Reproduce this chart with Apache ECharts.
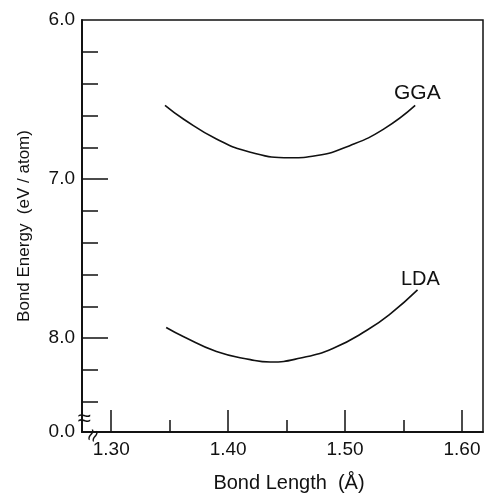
<!DOCTYPE html>
<html>
<head>
<meta charset="utf-8">
<script src="https://cdn.jsdelivr.net/npm/echarts@6/dist/echarts.min.js"></script>
<style>html,body{margin:0;padding:0;background:#fff}#c{width:487px;height:498px}</style>
</head>
<body>
<div id="c"></div>
<script>
// Data
const ggaLength = [1.346, 1.362, 1.390, 1.419, 1.453, 1.476, 1.504, 1.533, 1.560];
const ggaEnergy = [6.537, 6.624, 6.748, 6.831, 6.866, 6.852, 6.790, 6.686, 6.537];
const ldaLength = [1.347, 1.362, 1.390, 1.419, 1.436, 1.462, 1.490, 1.519, 1.539, 1.562];
const ldaEnergy = [7.933, 7.991, 8.084, 8.135, 8.150, 8.125, 8.063, 7.949, 7.846, 7.697];

const xMajorTicks = [1.30, 1.40, 1.50, 1.60];
const xMinorTicks = [1.35, 1.45, 1.55];
const yMajorTicks = [7.0, 8.0];
const yMinorTicks = [6.2, 6.4, 6.6, 6.8, 7.2, 7.4, 7.6, 7.8, 8.2, 8.4];
const yLabelValues = [6.0, 7.0, 8.0, 8.59];
const yLabelTexts = ['6.0', '7.0', '8.0', '0.0'];

const FONT = 'Liberation Sans, Arial, Helvetica, sans-serif';
const INK = '#111';

const chart = echarts.init(document.getElementById('c'), null, {renderer: 'canvas'});

const xBase = {
  type: 'value', min: 1.275, max: 1.618, position: 'bottom',
  axisLine: {show: true, lineStyle: {color: INK, width: 1.5}},
  splitLine: {show: false}
};
const yBase = {
  type: 'value', min: 6.0, max: 8.59, inverse: true, position: 'left',
  axisLine: {show: true, lineStyle: {color: INK, width: 1.5}},
  splitLine: {show: false}
};

chart.setOption({
  animation: false,
  backgroundColor: '#fff',
  grid: {left: 82, top: 20, right: 4, bottom: 63, show: true, borderColor: INK, borderWidth: 1.5},
  xAxis: [
    Object.assign({}, xBase, {
      name: 'Bond Length  (Å)', nameLocation: 'middle', nameGap: 41,
      nameTextStyle: {fontFamily: FONT, fontSize: 20, color: INK, padding: [0, 0, 0, 13]},
      axisTick: {show: true, inside: true, length: 22, customValues: xMajorTicks, lineStyle: {color: INK, width: 1.5}},
      axisLabel: {show: true, customValues: xMajorTicks, margin: 8, fontFamily: FONT, fontSize: 19, color: INK,
        formatter: v => v.toFixed(2)}
    }),
    Object.assign({}, xBase, {
      axisTick: {show: true, inside: true, length: 12, customValues: xMinorTicks, lineStyle: {color: INK, width: 1.5}},
      axisLabel: {show: false}
    })
  ],
  yAxis: [
    Object.assign({}, yBase, {
      name: 'Bond Energy  (eV / atom)', nameLocation: 'middle', nameGap: 49, nameRotate: 90,
      nameTextStyle: {fontFamily: FONT, fontSize: 17, color: INK},
      axisTick: {show: true, inside: true, length: 26, customValues: yMajorTicks, lineStyle: {color: INK, width: 1.5}},
      axisLabel: {show: true, customValues: yLabelValues, margin: 7, fontFamily: FONT, fontSize: 19, color: INK,
        formatter: v => { const i = yLabelValues.findIndex(t => Math.abs(t - v) < 1e-6); return i >= 0 ? yLabelTexts[i] : ''; }}
    }),
    Object.assign({}, yBase, {
      axisTick: {show: true, inside: true, length: 16, customValues: yMinorTicks, lineStyle: {color: INK, width: 1.5}},
      axisLabel: {show: false}
    })
  ],
  series: [
    {name: 'GGA', type: 'line', smooth: true, showSymbol: false, xAxisIndex: 0, yAxisIndex: 0,
      lineStyle: {color: INK, width: 1.6},
      data: ggaLength.map((x, i) => [x, ggaEnergy[i]])},
    {name: 'LDA', type: 'line', smooth: true, showSymbol: false, xAxisIndex: 0, yAxisIndex: 0,
      lineStyle: {color: INK, width: 1.6},
      data: ldaLength.map((x, i) => [x, ldaEnergy[i]])}
  ],
  graphic: [
    {type: 'text', left: 394, top: 83, style: {text: 'GGA', font: '21px ' + FONT, fill: INK}},
    {type: 'text', left: 401, top: 269, style: {text: 'LDA', font: '20px ' + FONT, fill: INK}},
    {type: 'text', x: 84, y: 419, style: {text: '≈', font: '24px ' + FONT, fill: INK, align: 'center', verticalAlign: 'middle'}},
    {type: 'text', x: 94, y: 436, rotation: 1.2, style: {text: '≈', font: '22px ' + FONT, fill: INK, align: 'center', verticalAlign: 'middle'}}
  ]
});
</script>
</body>
</html>
